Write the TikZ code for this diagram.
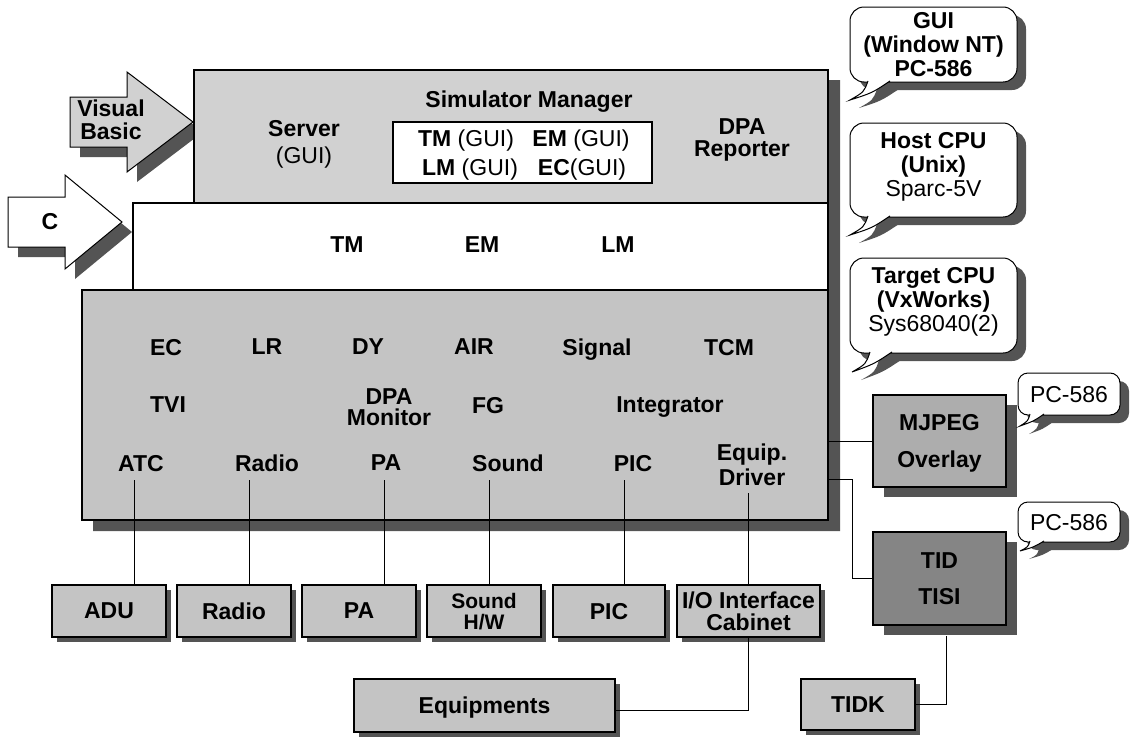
\documentclass[tikz,border=0pt]{standalone}
\usepackage{fontspec}
\setmainfont{Liberation Sans}
\usetikzlibrary{shadows}
\definecolor{lightfill}{gray}{0.82}
\definecolor{boxfill}{gray}{0.77}
\definecolor{mjfill}{gray}{0.68}
\definecolor{tidfill}{gray}{0.52}
\definecolor{shadowc}{gray}{0.33}
\newcommand\lblfont{\fontsize{23}{24}\selectfont\bfseries}
\newcommand\regfont{\fontsize{23}{24}\selectfont}
\newcommand\calltail[5]{%
  \fill[shadowc,shift={(9,8)}] #1 .. controls #2 .. #3 .. controls #4 .. #5 -- cycle;
  \fill[white] #1 .. controls #2 .. #3 .. controls #4 .. #5 -- cycle;
  \draw[line width=1pt] #1 .. controls #2 .. #3 .. controls #4 .. #5;
}
\begin{document}
\begin{tikzpicture}[x=1pt,y=-1pt,
  lbl/.style={inner sep=0pt,text depth=0pt,font=\lblfont,align=center},
  stackbox/.style={draw,line width=1.4pt,inner sep=0pt},
  hwbase/.style={draw,line width=1.2pt,fill=boxfill,inner sep=0pt,text depth=0pt,font=\lblfont,align=center},
  hwbox/.style={hwbase,drop shadow={shadow xshift=5pt,shadow yshift=-5pt,fill=shadowc,opacity=1}},
  bigshadow/.style={drop shadow={shadow xshift=11pt,shadow yshift=-10pt,fill=shadowc,opacity=1}},
  callbox/.style={draw,line width=1pt,fill=white,rounded corners=14pt,inner sep=0pt,text depth=0pt,font=\lblfont,align=center,drop shadow={shadow xshift=9pt,shadow yshift=-8pt,fill=shadowc,opacity=1}},
  wire/.style={line width=0.9pt},
  arrowshape/.style={draw,line width=1pt}]

\useasboundingbox (0,0) rectangle (1136,739);

% Visual Basic arrow
\fill[shadowc,shift={(10,10)}] (70,97) -- (127,97) -- (127,72) -- (193,122) -- (127,172) -- (127,147) -- (70,147) -- cycle;
\filldraw[arrowshape,fill=lightfill] (70,97) -- (127,97) -- (127,72) -- (193,122) -- (127,172) -- (127,147) -- (70,147) -- cycle;
\node[lbl] (vb) at (111,120) {Visual\\[-1pt]Basic};

% C arrow
\fill[shadowc,shift={(10,10)}] (8,197) -- (65,197) -- (65,175) -- (122,222) -- (65,269) -- (65,247) -- (8,247) -- cycle;
\filldraw[arrowshape,fill=white] (8,197) -- (65,197) -- (65,175) -- (122,222) -- (65,269) -- (65,247) -- (8,247) -- cycle;
\node[lbl] (c) at (50,221) {C};

% stack shadow
\fill[shadowc] (828,80) -- (840,80) -- (840,531) -- (93,531) -- (93,520) -- (828,520) -- cycle;

% stack
\node[stackbox,fill=boxfill,minimum width=746pt,minimum height=230pt] (bb) at (455,405) {};
\node[stackbox,fill=white,minimum width=695pt,minimum height=87pt] (mid) at (480.5,246.5) {};
\node[stackbox,fill=lightfill,minimum width=634pt,minimum height=133pt] (top) at (511,136.5) {};
\node[draw,line width=1.2pt,fill=white,minimum width=259pt,minimum height=61pt,inner sep=0pt] (smin) at (522.5,152.5) {};

% top texts
\node[lbl] (simm) at (529,99) {Simulator Manager};
\node[lbl] (srv) at (304,142) {Server\\[3pt]\mdseries(GUI)};
\node[lbl] (dpar) at (742,138) {DPA\\[-2pt]Reporter};
\node[lbl] (tmg) at (466,138) {TM \mdseries(GUI)};
\node[lbl] (emg) at (581,138) {EM \mdseries(GUI)};
\node[lbl] (lmg) at (470,167) {LM \mdseries(GUI)};
\node[lbl] (ecg) at (582,167) {EC\mdseries(GUI)};

% middle texts
\node[lbl] (tm) at (347,245) {TM};
\node[lbl] (em) at (482,245) {EM};
\node[lbl] (lm) at (618,245) {LM};

% bottom box texts
\node[lbl] (ec) at (166,347) {EC};
\node[lbl] (lr) at (267,347) {LR};
\node[lbl] (dy) at (368,347) {DY};
\node[lbl] (air) at (474,347) {AIR};
\node[lbl] (sig) at (597,347) {Signal};
\node[lbl] (tcm) at (729,347) {TCM};
\node[lbl] (tvi) at (168,405) {TVI};
\node[lbl] (dpam) at (389,407) {DPA\\[-3pt]Monitor};
\node[lbl] (fg) at (488,405) {FG};
\node[lbl] (integ) at (670,405) {Integrator};
\node[lbl] (atc) at (141,463) {ATC};
\node[lbl] (radl) at (267,463) {Radio};
\node[lbl] (pal) at (386,463) {PA};
\node[lbl] (sndl) at (508,463) {Sound};
\node[lbl] (picl) at (633,463) {PIC};
\node[lbl] (eqd) at (752,465) {Equip.\\[1pt]Driver};

% hardware boxes
\node[hwbox,minimum width=114pt,minimum height=52pt] (adu) at (109,611) {ADU};
\node[hwbox,minimum width=114pt,minimum height=52pt] (radio) at (234,611) {Radio};
\node[hwbox,minimum width=114pt,minimum height=52pt] (pa) at (359,611) {PA};
\node[hwbox,minimum width=114pt,minimum height=52pt,font=\fontsize{21}{21}\selectfont\bfseries] (snd) at (484,611) {Sound\\[0pt]H/W};
\node[hwbox,minimum width=112pt,minimum height=52pt] (pic) at (609,611) {PIC};
\node[hwbox,minimum width=143pt,minimum height=52pt] (io) at (748.5,611) {I/O Interface\\[-2pt]Cabinet};
\node[hwbox,minimum width=261pt,minimum height=53pt] (equip) at (484.5,705.5) {Equipments};
\node[hwbox,minimum width=114pt,minimum height=51pt] (tidk) at (858,704.5) {TIDK};
\node[hwbase,bigshadow,fill=mjfill,minimum width=133pt,minimum height=92pt] (mj) at (939.5,441) {MJPEG\\[13pt]Overlay};
\node[hwbase,bigshadow,fill=tidfill,minimum width=133pt,minimum height=93pt] (tid) at (939.5,578.5) {TID\\[12pt]TISI};

% callouts
\node[callbox,minimum width=167pt,minimum height=75pt] (c1) at (933.5,44.5) {GUI\\(Window NT)\\PC-586};
\calltail{(868,81)}{(864,92)}{(850,100)}{(872,93)}{(890,81)}
\node[callbox,minimum width=167pt,minimum height=94pt,text depth=12pt] (c2) at (933.5,170) {Host CPU\\(Unix)\\\mdseries Sparc-5V};
\calltail{(868,216)}{(864,227)}{(850,235)}{(872,228)}{(890,216)}
\node[callbox,minimum width=167pt,minimum height=95pt,text depth=12pt] (c3) at (933.5,305.5) {Target CPU\\(VxWorks)\\\mdseries Sys68040(2)};
\calltail{(870,352)}{(866,364)}{(852,372)}{(874,364)}{(892,352)}
\node[callbox,rounded corners=10pt,font=\regfont,minimum width=102pt,minimum height=42pt] (p1) at (1069,394) {PC-586};
\calltail{(1030,414)}{(1028,421)}{(1020,426)}{(1034,421)}{(1044,414)}
\node[callbox,rounded corners=10pt,font=\regfont,minimum width=102pt,minimum height=40pt] (p2) at (1069,522) {PC-586};
\calltail{(1030,541)}{(1028,547)}{(1020,551)}{(1034,547)}{(1044,541)}

% connectors
\coordinate (la) at (134,480);
\coordinate (lb) at (249,480);
\coordinate (lc) at (384,480);
\coordinate (ld) at (489,480);
\coordinate (le) at (624,480);
\coordinate (lf) at (748,493);
\draw[wire] (la) -- (la |- adu.north);
\draw[wire] (lb) -- (lb |- radio.north);
\draw[wire] (lc) -- (lc |- pa.north);
\draw[wire] (ld) -- (ld |- snd.north);
\draw[wire] (le) -- (le |- pic.north);
\draw[wire] (lf) -- (lf |- io.north);
\draw[wire] (io.south) |- ([yshift=-5pt]equip.east);
\draw[wire] (tidk.east) -| ([xshift=6.5pt,yshift=-10pt]tid.south);
\draw[wire] (bb.east |- mj.west) -- (mj.west);
\coordinate (tj) at (852,479);
\draw[wire] (bb.east |- tj) -- (tj) |- (tid.west);
\end{tikzpicture}
\end{document}
